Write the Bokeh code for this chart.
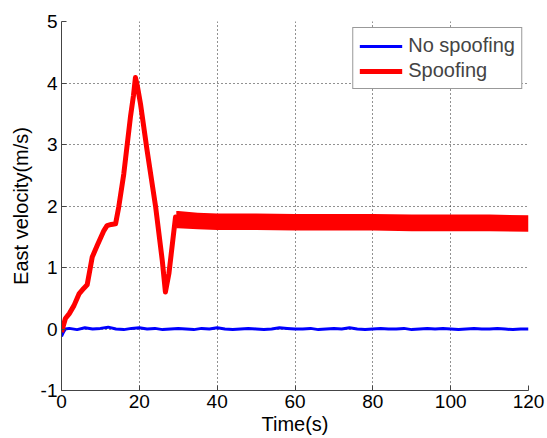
from bokeh.plotting import figure
from bokeh.models import Range1d, FixedTicker, Legend, LegendItem
from bokeh.embed import file_html
from bokeh.resources import INLINE

# ---- data ----
x_ticks = [0, 20, 40, 60, 80, 100, 120]
y_ticks = [-1, 0, 1, 2, 3, 4, 5]
y_tick_labels = {-1: "-1", 0: "0", 1: "1", 2: "2", 3: "3", 4: "4", 5: "5"}

nospoof_t = [0, 0.5, 1, 2, 4, 6, 8, 10, 12, 14, 16, 18, 20, 22, 24, 26, 28, 30, 32, 34,
             36, 38, 40, 42, 44, 46, 48, 50, 52, 54, 56, 58, 60, 62, 64, 66, 68, 70, 72,
             74, 76, 78, 80, 82, 84, 86, 88, 90, 92, 94, 96, 98, 100, 102, 104, 106, 108,
             110, 112, 114, 116, 118, 120]
nospoof_v = [-0.12, -0.05, 0.0, 0.01, -0.01, 0.02, 0.0, 0.01, 0.03, 0.0, -0.01, 0.01, 0.02,
             0.0, 0.01, -0.01, 0.0, 0.01, 0.0, -0.01, 0.01, 0.0, 0.02, 0.0, -0.01, 0.0,
             0.01, 0.0, -0.01, 0.0, 0.02, 0.01, 0.0, 0.0, 0.01, -0.01, 0.0, 0.01, 0.0,
             0.02, 0.0, -0.01, 0.0, 0.01, 0.0, 0.0, 0.01, -0.01, 0.0, 0.01, 0.0, 0.01,
             0.0, -0.01, 0.0, 0.01, 0.0, 0.0, 0.01, 0.0, -0.01, 0.0, 0.0]

spoof_t = [0, 1.0, 2.0, 3.2, 4.5, 5.7, 6.6, 7.9, 9.2, 10.9, 11.7, 12.8, 13.9, 14.7, 16.0,
           17.7, 18.5, 19.0, 19.5, 20.3, 22.0, 24.2, 25.9, 26.7, 27.6, 29.3, 29.8]
spoof_v = [-0.05, 0.17, 0.25, 0.38, 0.57, 0.66, 0.72, 1.17, 1.36, 1.60, 1.68, 1.70, 1.71,
           1.98, 2.52, 3.44, 3.80, 4.09, 3.95, 3.66, 2.90, 1.98, 1.11, 0.60, 0.90, 1.82, 1.75]

band_t = [29.5, 30, 35, 40, 50, 60, 70, 80, 90, 100, 110, 120]
band_hi = [1.92, 1.92, 1.89, 1.88, 1.88, 1.87, 1.87, 1.87, 1.86, 1.86, 1.86, 1.85]
band_lo = [1.64, 1.64, 1.62, 1.61, 1.61, 1.60, 1.60, 1.60, 1.59, 1.59, 1.59, 1.58]

FONT = "Liberation Sans"

p = figure(width=547, height=438, output_backend="svg", toolbar_location=None,
           x_range=Range1d(0, 120), y_range=Range1d(-1, 5),
           min_border_left=61, min_border_right=19, min_border_top=21, min_border_bottom=48)
p.outline_line_color = None
p.background_fill_color = "white"
p.border_fill_color = "white"

p.xaxis.ticker = FixedTicker(ticks=x_ticks)
p.yaxis.ticker = FixedTicker(ticks=y_ticks)
p.yaxis.major_label_overrides = y_tick_labels
for ax in (p.xaxis[0], p.yaxis[0]):
    ax.axis_line_color = "#444444"
    ax.major_tick_line_color = "#444444"
    ax.major_tick_in = 5
    ax.major_tick_out = 0
    ax.minor_tick_line_color = None
    ax.major_label_text_font = FONT
    ax.major_label_text_font_size = "19px"
    ax.major_label_text_color = "black"
    ax.axis_label_text_font = FONT
    ax.axis_label_text_font_size = "20px"
    ax.axis_label_text_font_style = "normal"
    ax.axis_label_text_color = "black"
    ax.major_label_standoff = 4
p.xaxis.axis_label = "Time(s)"
p.yaxis.axis_label = "East velocity(m/s)"
p.xaxis.axis_label_standoff = 2
p.yaxis.axis_label_standoff = 6

for g in (p.xgrid[0], p.ygrid[0]):
    g.grid_line_color = "#222222"
    g.grid_line_dash = "1 3"
    g.grid_line_width = 1
    g.grid_line_alpha = 1.0

r_blue = p.line(nospoof_t, nospoof_v, line_color="#0000FF", line_width=3, line_join="round")
p.varea(x=band_t, y1=band_lo, y2=band_hi, fill_color="#FF0000")
r_red = p.line(spoof_t, spoof_v, line_color="#FF0000", line_width=5, line_join="round")

legend = Legend(items=[LegendItem(label="No spoofing", renderers=[r_blue]),
                       LegendItem(label="Spoofing", renderers=[r_red])],
                location="top_right", margin=6, padding=6, spacing=2,
                glyph_width=43, glyph_height=22, label_height=22, label_standoff=6,
                label_text_font=FONT, label_text_font_size="20px",
                border_line_color="#333333", border_line_width=1,
                background_fill_color="white", background_fill_alpha=1)
p.add_layout(legend)

open("out.html", "w").write(file_html(p, INLINE))
